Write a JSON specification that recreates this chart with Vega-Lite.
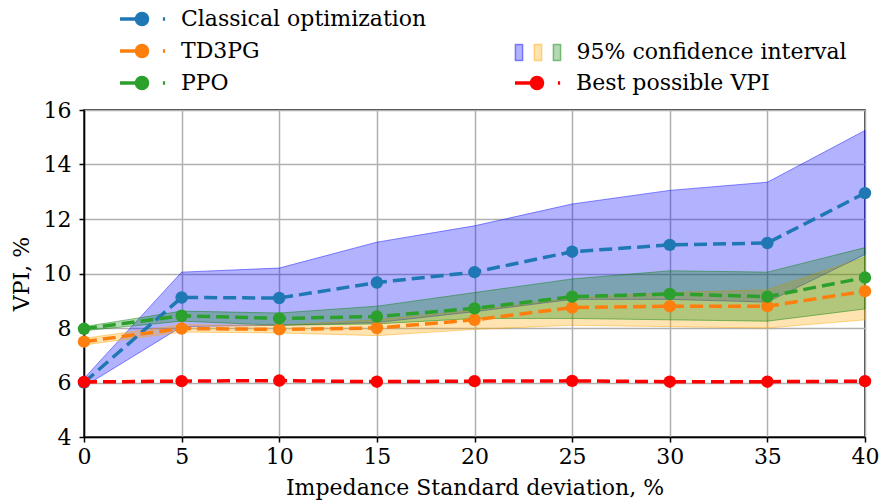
{
  "$schema": "https://vega.github.io/schema/vega-lite/v6.json",
  "width": 781,
  "height": 327,
  "autosize": {"type": "none"},
  "padding": {"left": 84, "top": 110, "right": 16, "bottom": 63},
  "background": "white",
  "config": {
    "font": "DejaVu Serif",
    "view": {"stroke": "black", "strokeWidth": 1.5},
    "axis": {
      "domainColor": "black", "domainWidth": 1.5,
      "tickColor": "black", "tickWidth": 1.5, "tickSize": 5,
      "gridColor": "#b0b0b0", "gridWidth": 1.5, "labelFlush": false,
      "labelFont": "DejaVu Serif", "labelFontSize": 22, "labelColor": "black",
      "titleFont": "DejaVu Serif", "titleFontSize": 22, "titleFontWeight": "normal", "titleColor": "black"
    },
    "legend": {"labelFont": "DejaVu Serif", "labelFontSize": 22, "labelColor": "black", "padding": 0, "offset": 0, "labelLimit": 0}
  },
  "data": {"values": [
    {"x": 0, "series": "Classical optimization", "mean": 6.0, "lo": 5.85, "hi": 6.15},
    {"x": 5, "series": "Classical optimization", "mean": 9.12, "lo": 8.05, "hi": 10.05},
    {"x": 10, "series": "Classical optimization", "mean": 9.1, "lo": 8.1, "hi": 10.2},
    {"x": 15, "series": "Classical optimization", "mean": 9.67, "lo": 8.2, "hi": 11.15},
    {"x": 20, "series": "Classical optimization", "mean": 10.05, "lo": 8.6, "hi": 11.75},
    {"x": 25, "series": "Classical optimization", "mean": 10.8, "lo": 9.05, "hi": 12.55},
    {"x": 30, "series": "Classical optimization", "mean": 11.05, "lo": 9.05, "hi": 13.05},
    {"x": 35, "series": "Classical optimization", "mean": 11.12, "lo": 8.95, "hi": 13.35},
    {"x": 40, "series": "Classical optimization", "mean": 12.95, "lo": 10.7, "hi": 15.25},
    {"x": 0, "series": "TD3PG", "mean": 7.5, "lo": 7.38, "hi": 7.62},
    {"x": 5, "series": "TD3PG", "mean": 7.98, "lo": 7.85, "hi": 8.12},
    {"x": 10, "series": "TD3PG", "mean": 7.95, "lo": 7.82, "hi": 8.1},
    {"x": 15, "series": "TD3PG", "mean": 8.0, "lo": 7.72, "hi": 8.3},
    {"x": 20, "series": "TD3PG", "mean": 8.3, "lo": 7.95, "hi": 8.65},
    {"x": 25, "series": "TD3PG", "mean": 8.75, "lo": 8.1, "hi": 9.1},
    {"x": 30, "series": "TD3PG", "mean": 8.8, "lo": 8.05, "hi": 9.3},
    {"x": 35, "series": "TD3PG", "mean": 8.8, "lo": 8.0, "hi": 9.4},
    {"x": 40, "series": "TD3PG", "mean": 9.35, "lo": 8.3, "hi": 10.6},
    {"x": 0, "series": "PPO", "mean": 7.97, "lo": 7.9, "hi": 8.05},
    {"x": 5, "series": "PPO", "mean": 8.45, "lo": 8.25, "hi": 8.62},
    {"x": 10, "series": "PPO", "mean": 8.35, "lo": 8.1, "hi": 8.55},
    {"x": 15, "series": "PPO", "mean": 8.42, "lo": 8.15, "hi": 8.8},
    {"x": 20, "series": "PPO", "mean": 8.72, "lo": 8.35, "hi": 9.3},
    {"x": 25, "series": "PPO", "mean": 9.15, "lo": 8.35, "hi": 9.8},
    {"x": 30, "series": "PPO", "mean": 9.25, "lo": 8.3, "hi": 10.1},
    {"x": 35, "series": "PPO", "mean": 9.15, "lo": 8.25, "hi": 10.05},
    {"x": 40, "series": "PPO", "mean": 9.85, "lo": 8.7, "hi": 10.95},
    {"x": 0, "series": "Best possible VPI", "mean": 6.02},
    {"x": 5, "series": "Best possible VPI", "mean": 6.05},
    {"x": 10, "series": "Best possible VPI", "mean": 6.07},
    {"x": 15, "series": "Best possible VPI", "mean": 6.03},
    {"x": 20, "series": "Best possible VPI", "mean": 6.05},
    {"x": 25, "series": "Best possible VPI", "mean": 6.06},
    {"x": 30, "series": "Best possible VPI", "mean": 6.03},
    {"x": 35, "series": "Best possible VPI", "mean": 6.03},
    {"x": 40, "series": "Best possible VPI", "mean": 6.05}
  ]},
  "layer": [
    {
      "transform": [{"filter": "datum.series !== 'Best possible VPI'"}],
      "mark": {"type": "area", "fillOpacity": 0.3, "strokeOpacity": 0.45, "strokeWidth": 1},
      "encoding": {
        "x": {"field": "x", "type": "quantitative", "scale": {"domain": [0, 40], "nice": false},
              "axis": {"values": [0, 5, 10, 15, 20, 25, 30, 35, 40], "grid": true, "labelPadding": 4, "titlePadding": 10},
              "title": "Impedance Standard deviation, %"},
        "y": {"field": "lo", "type": "quantitative", "scale": {"domain": [4, 16], "nice": false},
              "axis": {"values": [4, 6, 8, 10, 12, 14, 16], "grid": true, "labelPadding": 8, "titlePadding": 10},
              "title": "VPI, %"},
        "y2": {"field": "hi"},
        "fill": {"field": "series", "type": "nominal",
                 "scale": {"domain": ["Classical optimization", "TD3PG", "PPO"], "range": ["#0000ff", "#ffa500", "#008000"]},
                 "legend": {
                   "orient": "none", "legendX": 424, "legendY": -69, "title": null, "direction": "horizontal",
                   "symbolType": "M-0.69,-1.53H0.69V1.53H-0.69Z", "symbolSize": 110,
                   "labelOffset": -3.5, "columnPadding": 0,
                   "labelExpr": "datum.value === 'PPO' ? '95% confidence interval' : ''",
                   "encode": {
                     "symbols": {"update": {
                       "fillOpacity": {"value": 0.3}, "strokeOpacity": {"value": 0.45}, "strokeWidth": {"value": 1.5},
                       "stroke": {"signal": "datum.value === 'TD3PG' ? '#ffa500' : datum.value === 'PPO' ? '#008000' : '#0000ff'"}
                     }},
                     "labels": {"update": {
                       "dx": {"signal": "datum.value === 'PPO' ? 12 : 0"}
                     }}
                   }
                 }},
        "stroke": {"field": "series", "type": "nominal",
                   "scale": {"domain": ["Classical optimization", "TD3PG", "PPO"], "range": ["#0000ff", "#ffa500", "#008000"]},
                   "legend": null}
      }
    },
    {
      "transform": [{"filter": "datum.series !== 'Best possible VPI'"}],
      "encoding": {
        "x": {"field": "x", "type": "quantitative", "title": "Impedance Standard deviation, %"},
        "y": {"field": "mean", "type": "quantitative", "title": "VPI, %"},
        "color": {"field": "series", "type": "nominal",
                  "scale": {"domain": ["Classical optimization", "TD3PG", "PPO"], "range": ["#1f77b4", "#ff7f0e", "#2ca02c"]},
                  "legend": {
                    "orient": "none", "legendX": 45, "legendY": -104, "title": null,
                    "symbolType": "M-2,0L0.6,0M1.9,0L2.1,0M-0.5,0A0.5,0.5 0 1,1 0.5,0A0.5,0.5 0 1,1 -0.5,0Z",
                    "symbolSize": 484, "symbolStrokeWidth": 3.5, "symbolDash": [],
                    "labelOffset": 26, "rowPadding": 6,
                    "encode": {"symbols": {"update": {
                      "fill": {"signal": "datum.value === 'TD3PG' ? '#ff7f0e' : datum.value === 'PPO' ? '#2ca02c' : '#1f77b4'"},
                      "stroke": {"signal": "datum.value === 'TD3PG' ? '#ff7f0e' : datum.value === 'PPO' ? '#2ca02c' : '#1f77b4'"},
                      "opacity": {"value": 1}, "fillOpacity": {"value": 1}, "strokeOpacity": {"value": 1}
                    }}}
                  }}
      },
      "layer": [
        {"mark": {"type": "line", "strokeDash": [13, 6], "strokeWidth": 3.5}},
        {"mark": {"type": "point", "filled": true, "size": 155, "opacity": 1}}
      ]
    },
    {
      "transform": [{"filter": "datum.series === 'Best possible VPI'"}],
      "encoding": {
        "x": {"field": "x", "type": "quantitative", "title": "Impedance Standard deviation, %"},
        "y": {"field": "mean", "type": "quantitative", "title": "VPI, %"},
        "color": {"field": "series", "type": "nominal",
                  "scale": {"domain": ["Best possible VPI"], "range": ["#ff0000"]},
                  "legend": {
                    "orient": "none", "legendX": 440, "legendY": -40, "title": null,
                    "symbolType": "M-2,0L0.6,0M1.9,0L2.1,0M-0.5,0A0.5,0.5 0 1,1 0.5,0A0.5,0.5 0 1,1 -0.5,0Z",
                    "symbolSize": 484, "symbolStrokeWidth": 3.5, "symbolDash": [],
                    "labelOffset": 26,
                    "encode": {"symbols": {"update": {
                      "fill": {"value": "#ff0000"}, "stroke": {"value": "#ff0000"},
                      "opacity": {"value": 1}, "fillOpacity": {"value": 1}, "strokeOpacity": {"value": 1}
                    }}}
                  }}
      },
      "layer": [
        {"mark": {"type": "line", "strokeDash": [13, 6], "strokeWidth": 3.5}},
        {"mark": {"type": "point", "filled": true, "size": 155, "opacity": 1}}
      ]
    }
  ],
  "resolve": {"scale": {"color": "independent"}, "legend": {"color": "independent"}}
}
